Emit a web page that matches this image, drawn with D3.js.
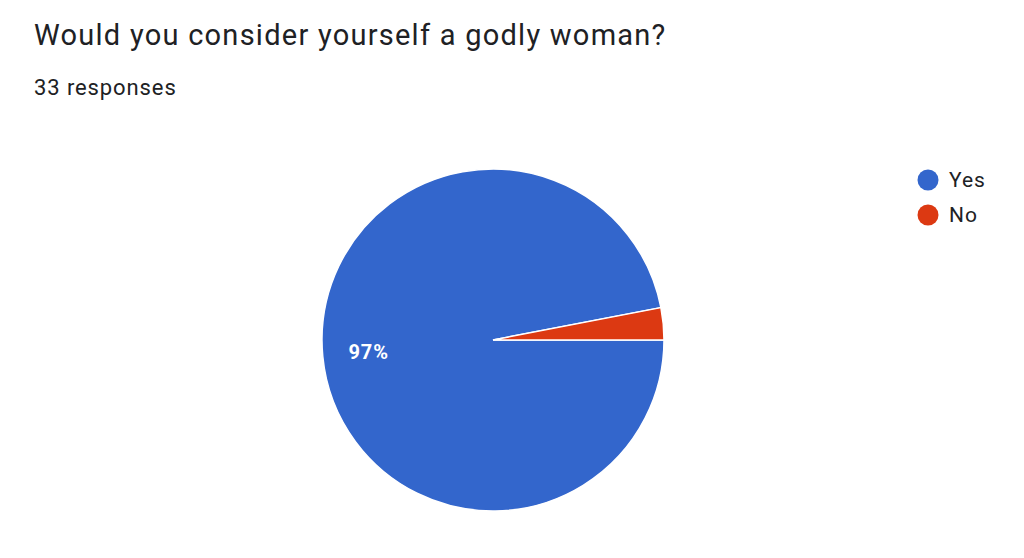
<!DOCTYPE html>
<html>
<head>
<meta charset="utf-8">
<script src="https://cdn.jsdelivr.net/npm/d3@7"></script>
<style>
  body { margin: 0; background: #fff; }
  text { font-family: Roboto, Arial, sans-serif; }
</style>
</head>
<body>
<div id="chart"></div>
<script>
// Data
const answers = ["Yes", "No"];
const counts = [32, 1];
const colors = ["#3366cc", "#dc3912"];
const title = "Would you consider yourself a godly woman?";
const subtitle = "33 responses";

const width = 1024, height = 558;
const cx = 493, cy = 340, radius = 171;

const svg = d3.select("#chart")
    .append("svg")
    .attr("width", width)
    .attr("height", height);

// Title and response count
svg.append("text")
    .attr("x", 34)
    .attr("y", 45)
    .attr("font-size", 29)
    .attr("letter-spacing", 1.25)
    .attr("fill", "#202124")
    .text(title);

svg.append("text")
    .attr("x", 34)
    .attr("y", 95)
    .attr("font-size", 22)
    .attr("letter-spacing", 0.9)
    .attr("fill", "#202124")
    .text(subtitle);

const data = answers.map((a, i) => ({answer: a, count: counts[i]}));
const total = d3.sum(counts);

const color = d3.scaleOrdinal()
    .domain(answers)
    .range(colors);

// slices start at 3 o'clock and go clockwise
const pie = d3.pie()
    .value(d => d.count)
    .sort(null)
    .startAngle(Math.PI / 2)
    .endAngle(Math.PI / 2 + 2 * Math.PI);

const arc = d3.arc()
    .innerRadius(0)
    .outerRadius(radius);

const g = svg.append("g")
    .attr("transform", `translate(${cx},${cy})`);

const arcs = pie(data);

g.selectAll("path")
    .data(arcs)
    .enter()
    .append("path")
    .attr("d", arc)
    .attr("fill", d => color(d.data.answer))
    .attr("stroke", "#fff")
    .attr("stroke-width", 1.5);

// Percentage labels (only on large enough slices)
const labelArc = d3.arc()
    .innerRadius(radius * 0.73)
    .outerRadius(radius * 0.73);

g.selectAll(".pct")
    .data(arcs.filter(d => d.data.count / total > 0.05))
    .enter()
    .append("text")
    .attr("class", "pct")
    .attr("transform", d => `translate(${labelArc.centroid(d)})`)
    .attr("text-anchor", "middle")
    .attr("dy", "0.35em")
    .attr("font-size", 20)
    .attr("font-weight", "bold")
    .attr("letter-spacing", 1)
    .attr("fill", "#fff")
    .text(d => Math.round(d.data.count / total * 100) + "%");

// Legend
const legend = svg.append("g")
    .attr("transform", "translate(928,180)");

const item = legend.selectAll(".item")
    .data(answers)
    .enter()
    .append("g")
    .attr("class", "item")
    .attr("transform", (d, i) => `translate(0,${i * 35})`);

item.append("circle")
    .attr("r", 10.5)
    .attr("fill", d => color(d));

item.append("text")
    .attr("x", 21)
    .attr("dy", "0.35em")
    .attr("font-size", 21)
    .attr("letter-spacing", 1)
    .attr("fill", "#202124")
    .text(d => d);
</script>
</body>
</html>
